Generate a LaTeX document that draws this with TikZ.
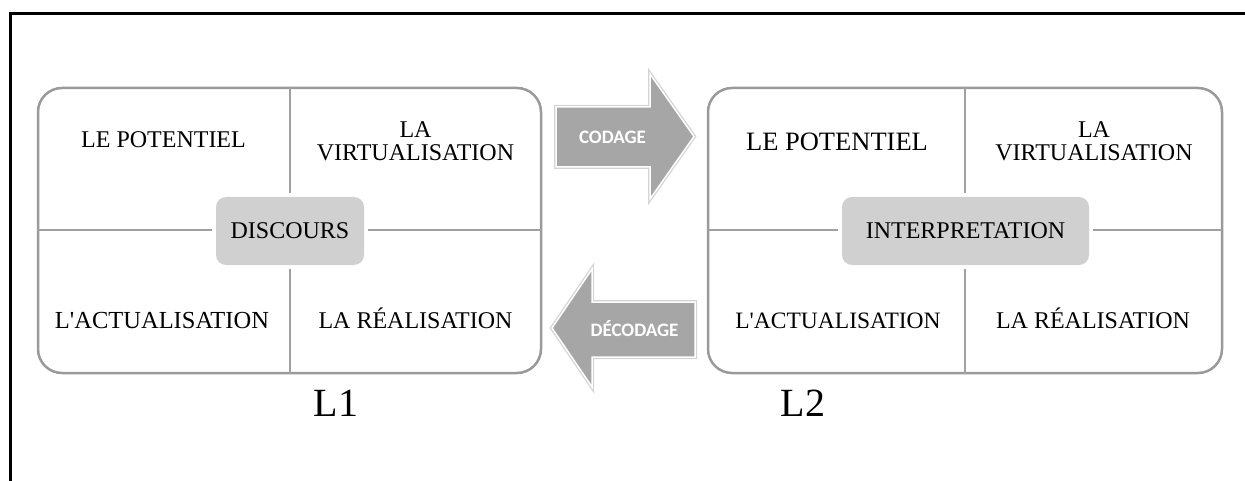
\documentclass[tikz,border=0pt]{standalone}
\usepackage{fontspec}
\setmainfont{Liberation Serif}[Ligatures=TeXOff]
\newfontfamily\arrowfont{Carlito}
\definecolor{panelgray}{HTML}{9A9A9A}
\definecolor{divgray}{HTML}{A0A0A0}
\definecolor{coregray}{HTML}{D0D0D0}
\definecolor{arrowgray}{HTML}{A6A6A6}
\definecolor{shadegray}{HTML}{D4D4D4}
\tikzset{
  panel/.style={draw=panelgray, line width=2.5pt, rounded corners=24pt, minimum width=#1, minimum height=285pt, inner sep=0pt},
  core/.style={fill=coregray, rounded corners=10pt, minimum height=68pt, inner sep=0pt, font=\fontsize{24}{26}\selectfont},
  divline/.style={draw=divgray, line width=2pt},
  lbl/.style={inner sep=0pt, font=\fontsize{24}{23}\selectfont, align=center},
  biglbl/.style={inner sep=0pt, font=\fontsize{40}{44}\selectfont},
  arrowbody/.style={fill=arrowgray, draw=white, line width=1.5pt, line join=miter},
  arrowshade/.style={draw=shadegray, line width=4pt, line join=miter},
  arrowtext/.style={inner sep=0pt, text=white, font=\arrowfont\bfseries\fontsize{19}{22}\selectfont},
  frame/.style={draw=black, line width=3pt}
}
\begin{document}
\begin{tikzpicture}[x=1pt, y=-1pt]
\useasboundingbox (0,0) rectangle (1245,481);
% outer frame (top and left)
\coordinate (fTL) at (10,14);
\coordinate (fTR) at (1245,14);
\coordinate (fBL) at (10,481);
\draw[frame, line cap=rect] (fBL) -- (fTL) -- (fTR);

% ---------- panel L1 ----------
\node[panel=503pt] (b1) at (289.5,230.5) {};
\node[core, minimum width=148pt] (c1) at (290,231) {DISCOURS};
\draw[divline, shorten >=4pt] (b1.north) -- (b1.north |- c1.north);
\draw[divline, shorten >=4pt] (b1.south) -- (b1.south |- c1.south);
\draw[divline, shorten >=4pt] (b1.west) -- (b1.west -| c1.west);
\draw[divline, shorten >=4pt] (b1.east) -- (b1.east -| c1.east);
\node[lbl, anchor=base] (p1) at (163.5,148) {LE POTENTIEL};
\node[lbl] (v1) at (415.5,141) {LA\\VIRTUALISATION};
\node[lbl, anchor=base, font=\fontsize{24.5}{26}\selectfont] (a1) at (162,328) {L'ACTUALISATION};
\node[lbl, anchor=base] (r1) at (415.5,328) {LA RÉALISATION};
\node[biglbl, anchor=base] (L1) at (336,416) {L1};

% ---------- panel L2 ----------
\node[panel=514pt] (b2) at (965,230.5) {};
\node[core, minimum width=247pt] (c2) at (965.5,231) {INTERPRETATION};
\draw[divline, shorten >=4pt] (b2.north) -- (b2.north |- c2.north);
\draw[divline, shorten >=4pt] (b2.south) -- (b2.south |- c2.south);
\draw[divline, shorten >=4pt] (b2.west) -- (b2.west -| c2.west);
\draw[divline, shorten >=4pt] (b2.east) -- (b2.east -| c2.east);
\node[lbl, anchor=base, font=\fontsize{26.5}{28}\selectfont] (p2) at (837,151) {LE POTENTIEL};
\node[lbl] (v2) at (1094,141) {LA\\VIRTUALISATION};
\node[lbl, anchor=base, font=\fontsize{23.5}{26}\selectfont] (a2) at (838,328) {L'ACTUALISATION};
\node[lbl, anchor=base] (r2) at (1093,328) {LA RÉALISATION};
\node[biglbl, anchor=base] (L2) at (803,416) {L2};

% ---------- CODAGE arrow ----------
\coordinate (ca1) at (556,107);
\coordinate (ca2) at (650,107);
\coordinate (ca3) at (650,74);
\coordinate (ca4) at (694,136.5);
\coordinate (ca5) at (650,199);
\coordinate (ca6) at (650,167);
\coordinate (ca7) at (556,167);
\draw[arrowshade] (ca1) -- (ca2) -- (ca3) -- (ca4) -- (ca5) -- (ca6) -- (ca7) -- cycle;
\filldraw[arrowbody] (ca1) -- (ca2) -- (ca3) -- (ca4) -- (ca5) -- (ca6) -- (ca7) -- cycle;
\node[arrowtext] (tcod) at (612.5,137.5) {CODAGE};

% ---------- DECODAGE arrow ----------
\coordinate (da1) at (695,302);
\coordinate (da2) at (592,302);
\coordinate (da3) at (592,269);
\coordinate (da4) at (552,328);
\coordinate (da5) at (592,387);
\coordinate (da6) at (592,357);
\coordinate (da7) at (695,357);
\draw[arrowshade] (da1) -- (da2) -- (da3) -- (da4) -- (da5) -- (da6) -- (da7) -- cycle;
\filldraw[arrowbody] (da1) -- (da2) -- (da3) -- (da4) -- (da5) -- (da6) -- (da7) -- cycle;
\node[arrowtext] (tdec) at (634.5,328.5) {DÉCODAGE};
\end{tikzpicture}
\end{document}
